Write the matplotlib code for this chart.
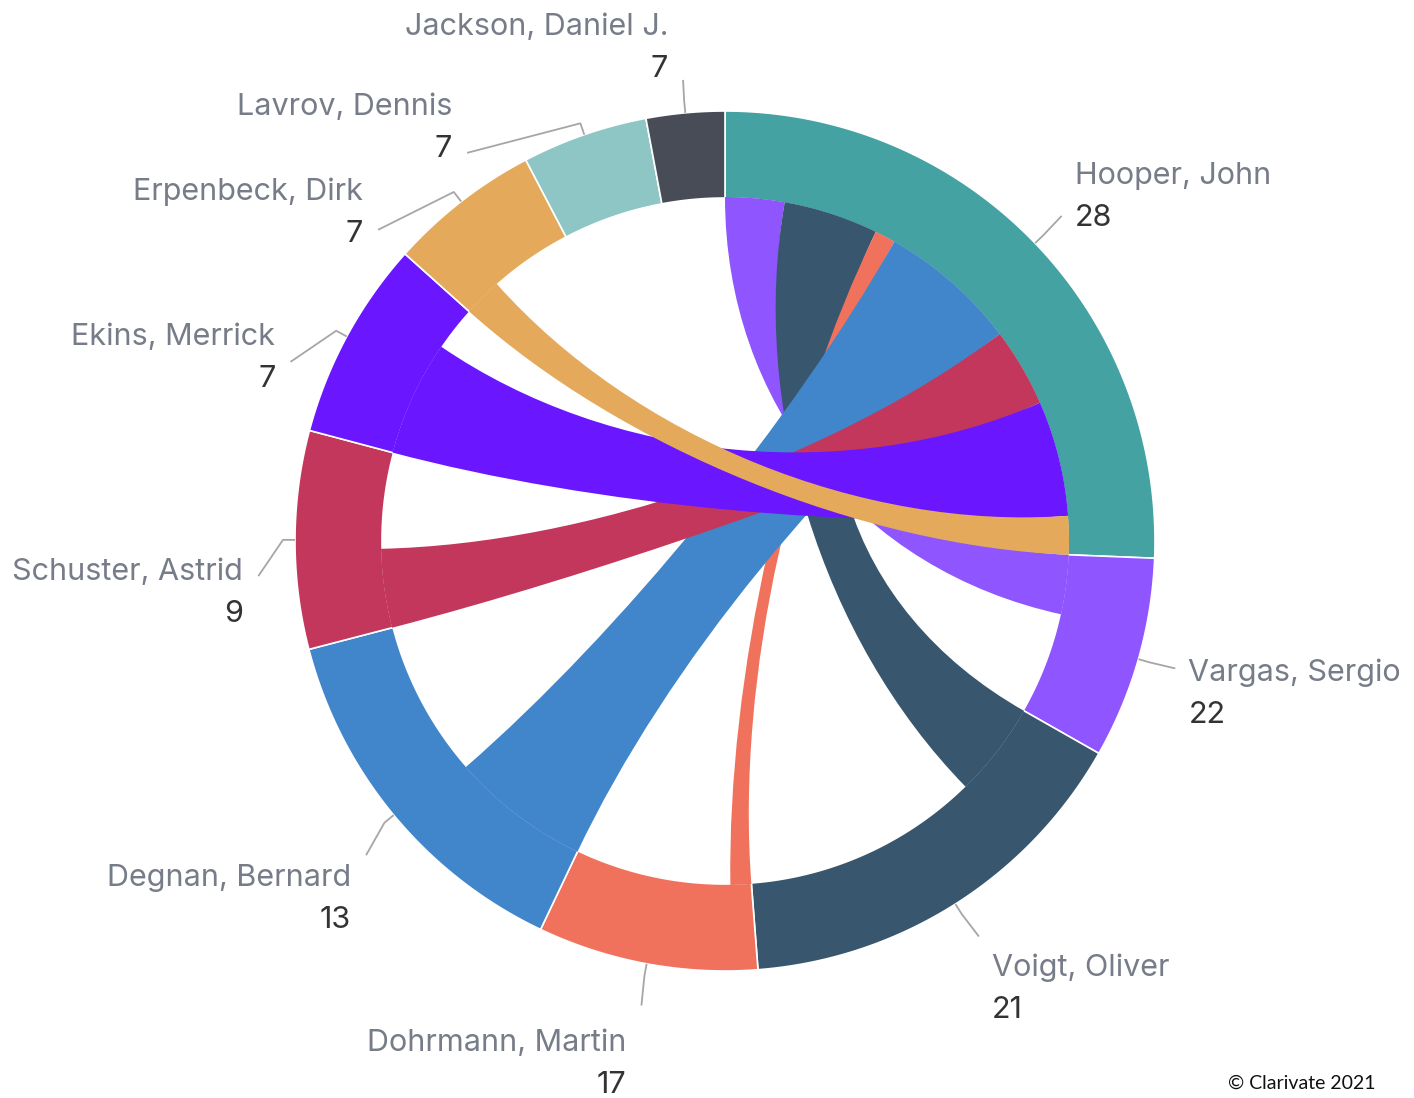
import numpy as np
import matplotlib
matplotlib.use("Agg")
import matplotlib.pyplot as plt
from matplotlib.path import Path
from matplotlib.patches import PathPatch

# ---------------- data ----------------
names = ["Hooper, John", "Vargas, Sergio", "Voigt, Oliver", "Dohrmann, Martin",
         "Degnan, Bernard", "Schuster, Astrid", "Ekins, Merrick", "Erpenbeck, Dirk",
         "Lavrov, Dennis", "Jackson, Daniel J."]
values = [28, 22, 21, 17, 13, 9, 7, 7, 7, 7]
# relative arc size of each node
node_weight = [92.3, 27.3, 56.0, 29.8, 50.0, 29.5, 27.0, 20.5, 17.0, 10.6]
colors = ["#45a2a2", "#8f55ff", "#38576f", "#f0725c", "#4186cb",
          "#c2375b", "#6a16ff", "#e4a95a", "#8ec5c5", "#484c56"]
link_from = ["Vargas, Sergio", "Voigt, Oliver", "Dohrmann, Martin", "Degnan, Bernard",
             "Schuster, Astrid", "Ekins, Merrick", "Erpenbeck, Dirk"]
link_to = ["Hooper, John"] * 7
link_weight = [10.0, 16.0, 3.5, 23.5, 13.3, 19.5, 6.5]

# label placement (layout only): angle clockwise from top, connector length
label_angle = [46.0, 105.8, 147.3, 190.2, 228.8, 265.7, 292.4, 311.9, 326.4, 354.8]
label_dist = [38, 38, 40, 42, 47, 38, 40, 36, 36, 33]

# ---------------- layout ----------------
W, H = 1414, 1098
cx, cy = 725, 541
R_out, R_in = 430, 343
CURVE = 0.6

fig = plt.figure(figsize=(W / 100, H / 100), dpi=100)
ax = fig.add_axes([0, 0, 1, 1])
ax.set_xlim(0, W)
ax.set_ylim(H, 0)
ax.axis("off")


def pt(r, th):
    return (cx + r * np.sin(th), cy - r * np.cos(th))


def arc(r, a0, a1, n=None):
    if n is None:
        n = max(8, int(abs(a1 - a0) * 180 / np.pi * 2))
    t = np.linspace(a0, a1, n)
    return np.column_stack([cx + r * np.sin(t), cy - r * np.cos(t)])


total = sum(node_weight)
scale = 2 * np.pi / total
starts = np.concatenate([[0], np.cumsum(node_weight)[:-1]]) * scale
ends = np.cumsum(node_weight) * scale

# nodes
for i, nm in enumerate(names):
    outer = arc(R_out, starts[i], ends[i])
    inner = arc(R_in, ends[i], starts[i])
    verts = np.vstack([outer, inner, outer[:1]])
    codes = [Path.MOVETO] + [Path.LINETO] * (len(verts) - 2) + [Path.CLOSEPOLY]
    ax.add_patch(PathPatch(Path(verts, codes), facecolor=colors[i],
                           edgecolor="white", lw=1.2, zorder=2))

# links
cursor = list(starts)
r_l = R_in + 1
for f, t, w in zip(link_from, link_to, link_weight):
    fi, ti = names.index(f), names.index(t)
    s0 = cursor[fi]; s1 = s0 + w * scale; cursor[fi] = s1
    t0 = cursor[ti]; t1 = t0 + w * scale; cursor[ti] = t1
    base = [s0, s1, t0, t1]

    def cp(i):
        ang = base[i]
        d = abs(base[3 - i] - ang)
        if d > np.pi:
            d = 2 * np.pi - d
        cf = CURVE * min(1.0, d)
        x, y = pt(r_l, ang)
        return (cx + (1 - cf) * (x - cx), cy + (1 - cf) * (y - cy))

    a1 = arc(r_l, s0, s1)
    a2 = arc(r_l, t0, t1)
    verts = list(map(tuple, a1))
    codes = [Path.MOVETO] + [Path.LINETO] * (len(a1) - 1)
    verts += [cp(1), cp(2), tuple(a2[0])]
    codes += [Path.CURVE4] * 3
    verts += list(map(tuple, a2[1:]))
    codes += [Path.LINETO] * (len(a2) - 1)
    verts += [cp(3), cp(0), tuple(a1[0])]
    codes += [Path.CURVE4] * 3
    verts += [tuple(a1[0])]
    codes += [Path.CLOSEPOLY]
    ax.add_patch(PathPatch(Path(verts, codes), facecolor=colors[fi],
                           edgecolor="none", lw=0, zorder=3))

# labels with connectors
FONT = "Inter"
fs = 22
name_col = "#767c88"
val_col = "#333333"
for i, nm in enumerate(names):
    mid = (starts[i] + ends[i]) / 2
    la = np.deg2rad(label_angle[i])
    p0 = pt(R_out, mid)
    p1 = pt(R_out + 12, mid)
    p2 = pt(R_out + label_dist[i], la)
    ax.plot([p0[0], p1[0], p2[0]], [p0[1], p1[1], p2[1]],
            color="#a6a6a6", lw=1.3, zorder=4, solid_capstyle="butt")
    right = np.sin(la) > 0
    bc = p2[1] + 11 - 46 * np.cos(la)
    if right:
        x = p2[0] + 13
        ha = "left"
    else:
        x = p2[0] - 15
        ha = "right"
    ax.text(x, bc - 10.5, nm, ha=ha, va="baseline", fontsize=fs,
            family=FONT, color=name_col)
    ax.text(x, bc + 31.5, str(values[i]), ha=ha, va="baseline", fontsize=fs,
            family=FONT, color=val_col)

ax.text(1375, 1089, "\u00a9 Clarivate 2021", ha="right", va="baseline",
        fontsize=14, family="Lato", color="#111111")

fig.savefig("out.png", dpi=100, facecolor="white")
